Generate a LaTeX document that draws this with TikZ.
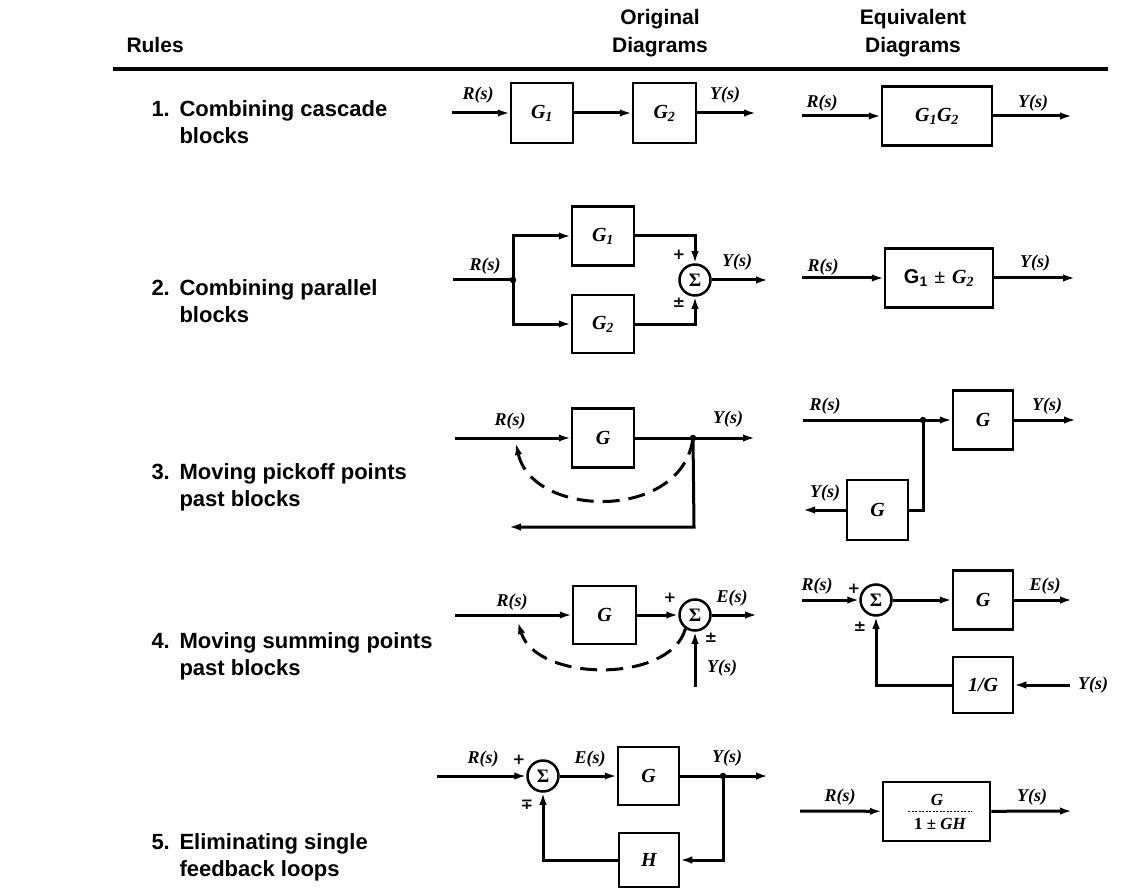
\documentclass[tikz,border=0pt]{standalone}
\usepackage{fontspec}
\setmainfont{Liberation Sans}
\newfontfamily\lab{Liberation Serif}
\newfontfamily\djv{DejaVu Sans}
\usetikzlibrary{arrows.meta}
\begin{document}
\begin{tikzpicture}[x=1pt,y=-1pt,
  line width=3pt,
  >={Latex[length=12pt,width=7.5pt]},
  blk/.style={draw,line width=2.5pt,inner sep=0pt,font=\lab\bfseries\itshape\fontsize{20}{22}\selectfont},
  sig/.style={font=\lab\bfseries\itshape\fontsize{18}{20}\selectfont,inner sep=0pt},
  sumn/.style={draw,circle,line width=2.5pt,minimum size=31pt,inner sep=0pt,font=\lab\bfseries\fontsize{19}{21}\selectfont},
  sgn/.style={font=\djv\bfseries\fontsize{15}{17}\selectfont,inner sep=0pt},
  jdot/.style={circle,fill,inner sep=0pt,minimum size=6.5pt},
  hdr/.style={font=\bfseries\fontsize{21}{27}\selectfont,inner sep=0pt},
  rl/.style={font=\bfseries\fontsize{22}{27}\selectfont,anchor=base west,inner sep=0pt},
  dsh/.style={dash pattern=on 17pt off 9pt},
]
\useasboundingbox (0,0) rectangle (1123,890);
\fill[white] (0,0) rectangle (1123,890);

% ---------- header ----------
\node[hdr,anchor=base west] (hrules) at (125,53) {Rules};
\node[hdr,anchor=base] (horig1) at (660,25) {Original};
\node[hdr,anchor=base] (horig2) at (660,53) {Diagrams};
\node[hdr,anchor=base] (hequ1) at (913,25) {Equivalent};
\node[hdr,anchor=base] (hequ2) at (913,53) {Diagrams};
\coordinate (ruleL) at (113,69);
\coordinate (ruleR) at (1108,69);
\draw[line width=3.2pt] (ruleL) -- (ruleR);

% ---------- rule labels ----------
\node[rl] (n1) at (150,117) {1.};
\node[rl] (t1a) at (178,117) {Combining cascade};
\node[rl] (t1b) at (178,144) {blocks};
\node[rl] (n2) at (150,295) {2.};
\node[rl] (t2a) at (178,295) {Combining parallel};
\node[rl] (t2b) at (178,322) {blocks};
\node[rl] (n3) at (150,479) {3.};
\node[rl] (t3a) at (178,479) {Moving pickoff points};
\node[rl] (t3b) at (178,506) {past blocks};
\node[rl] (n4) at (150,648) {4.};
\node[rl] (t4a) at (178,648) {Moving summing points};
\node[rl] (t4b) at (178,675) {past blocks};
\node[rl] (n5) at (150,849) {5.};
\node[rl] (t5a) at (178,849) {Eliminating single};
\node[rl] (t5b) at (178,876) {feedback loops};

% ---------- row 1 original ----------
\node[blk,minimum width=62pt,minimum height=60pt] (g1a) at (542,113) {G\textsubscript{1}};
\node[blk,minimum width=63pt,minimum height=60pt] (g2a) at (664.5,113) {G\textsubscript{2}};
\coordinate (r1in) at (452,113);
\coordinate (r1out) at (756,113);
\draw[->] (r1in) -- (g1a);
\draw[->] (g1a) -- (g2a);
\draw[->] (g2a) -- (r1out);
\node[sig] (r1R) at (478,95) {R(s)};
\node[sig] (r1Y) at (725,95) {Y(s)};

% ---------- row 1 equivalent ----------
\node[blk,minimum width=110pt,minimum height=59pt] (g12) at (937,116) {G\textsubscript{1}G\textsubscript{2}};
\coordinate (e1in) at (802,116);
\coordinate (e1out) at (1072,116);
\draw[->] (e1in) -- (g12);
\draw[->] (g12) -- (e1out);
\node[sig] (e1R) at (822,103) {R(s)};
\node[sig] (e1Y) at (1033,103) {Y(s)};

% ---------- row 2 original ----------
\coordinate (r2in) at (453,280);
\node[jdot] (r2split) at (513,280) {};
\node[blk,minimum width=62pt,minimum height=59pt] (g1b) at (603,236) {G\textsubscript{1}};
\node[blk,minimum width=62pt,minimum height=58pt] (g2b) at (603,324) {G\textsubscript{2}};
\node[sumn] (s2) at (695,280) {Σ};
\coordinate (r2out) at (768,280);
\draw (r2in) -- (r2split.center);
\draw[->] (r2split.center) |- (g1b.west);
\draw[->] (r2split.center) |- (g2b.west);
\draw[->] (g1b.east) -| (s2.north);
\draw[->] (g2b.east) -| (s2.south);
\draw[->] (s2) -- (r2out);
\node[sig] (r2R) at (485,266) {R(s)};
\node[sig] (r2Y) at (737,262) {Y(s)};
\node[sgn] (r2p) at (679,255) {+};
\node[sgn] (r2pm) at (679,303) {±};

% ---------- row 2 equivalent ----------
\node[blk,minimum width=108pt,minimum height=59pt] (g1pg2) at (939,278) {{\normalfont\bfseries G\textsubscript{1}}\,\,{\upshape ±}\,\,G\textsubscript{2}};
\coordinate (e2in) at (802,278);
\coordinate (e2out) at (1075,278);
\draw[->] (e2in) -- (g1pg2);
\draw[->] (g1pg2) -- (e2out);
\node[sig] (e2R) at (823,267) {R(s)};
\node[sig] (e2Y) at (1035,263) {Y(s)};

% ---------- row 3 original ----------
\coordinate (r3in) at (455,438);
\node[blk,minimum width=62pt,minimum height=59pt] (g3) at (603,438) {G};
\node[jdot] (p3) at (693,438) {};
\coordinate (r3out) at (755,438);
\coordinate (r3c) at (694,527);
\coordinate (r3end) at (509,527);
\coordinate (r3tip) at (516,443);
\draw[->] (r3in) -- (g3);
\draw (g3) -- (p3.center);
\draw[->] (p3.center) -- (r3c) -- (r3end);
\draw[->] (p3.center) -- (r3out);
\draw[dsh,->] (p3.center) .. controls (682,522) and (532,518) .. (r3tip);
\node[sig] (r3R) at (510,421) {R(s)};
\node[sig] (r3Y) at (728,419) {Y(s)};

% ---------- row 3 equivalent ----------
\coordinate (e3in) at (803,420);
\node[jdot] (p3e) at (923,420) {};
\node[blk,minimum width=60pt,minimum height=59pt] (g3e) at (983,420) {G};
\coordinate (e3out) at (1076,420);
\node[blk,minimum width=61pt,minimum height=60pt] (g3l) at (877.5,510) {G};
\coordinate (e3lout) at (803,510);
\draw (e3in) -- (p3e.center);
\draw[->] (p3e.center) -- (g3e);
\draw[->] (g3e) -- (e3out);
\draw (p3e.center) |- (g3l.east);
\draw[->] (g3l.west) -- (e3lout);
\node[sig] (e3R) at (825,406) {R(s)};
\node[sig] (e3Y) at (1047,406) {Y(s)};
\node[sig] (e3Y2) at (825,493) {Y(s)};

% ---------- row 4 original ----------
\coordinate (r4in) at (455,615);
\node[blk,minimum width=63pt,minimum height=58pt] (g4) at (604.5,615) {G};
\node[sumn] (s4) at (695,615) {Σ};
\coordinate (r4out) at (757,615);
\coordinate (r4y) at (695,687);
\coordinate (r4tip) at (518,622);
\draw[->] (r4in) -- (g4);
\draw[->] (g4) -- (s4);
\draw[->] (s4) -- (r4out);
\draw[->] (r4y) -- (s4.south);
\draw[dsh,->] (s4.235) .. controls (670,684) and (536,682) .. (r4tip);
\node[sig] (r4R) at (512,602) {R(s)};
\node[sig] (r4E) at (732,598) {E(s)};
\node[sgn] (r4p) at (670,598) {+};
\node[sgn] (r4pm) at (711,638) {±};
\node[sig] (r4Y) at (722,668) {Y(s)};

% ---------- row 4 equivalent ----------
\coordinate (e4in) at (802,600);
\node[sumn] (s4e) at (876,600) {Σ};
\node[blk,minimum width=60pt,minimum height=59pt] (g4e) at (983,600) {G};
\coordinate (e4out) at (1072,600);
\node[blk,minimum width=60pt,minimum height=56pt] (ig) at (983,685) {1/G};
\coordinate (e4y) at (1070,685);
\draw[->] (e4in) -- (s4e);
\draw[->] (s4e) -- (g4e);
\draw[->] (g4e) -- (e4out);
\draw[->] (e4y) -- (ig.east);
\draw[->] (ig.west) -| (s4e.south);
\node[sig] (e4R) at (817,586) {R(s)};
\node[sgn] (e4p) at (854,589) {+};
\node[sgn] (e4pm) at (860,627) {±};
\node[sig] (e4E) at (1045,586) {E(s)};
\node[sig] (e4Y) at (1093,685) {Y(s)};

% ---------- row 5 original ----------
\coordinate (r5in) at (437,776);
\node[sumn] (s5) at (543,776) {Σ};
\node[blk,minimum width=61pt,minimum height=58pt] (g5) at (648.5,776) {G};
\node[jdot] (p5) at (723,776) {};
\coordinate (r5out) at (768,776);
\node[blk,minimum width=60pt,minimum height=54pt] (h5) at (649,860) {H};
\draw[->] (r5in) -- (s5);
\draw[->] (s5) -- (g5);
\draw (g5) -- (p5.center);
\draw[->] (p5.center) -- (r5out);
\draw[->] (p5.center) |- (h5.east);
\draw[->] (h5.west) -| (s5.south);
\node[sig] (r5R) at (483,759) {R(s)};
\node[sgn] (r5p) at (519,760) {+};
\node[sig] (r5E) at (590,759) {E(s)};
\node[sig] (r5Y) at (727,758) {Y(s)};
\node[sgn] (r5mp) at (527,805) {∓};

% ---------- row 5 equivalent ----------
\node[blk,minimum width=107pt,minimum height=59pt] (gcl) at (936.5,811.5) {};
\node[sig,font=\lab\bfseries\itshape\fontsize{17}{19}\selectfont] (gnum) at (937,800) {G};
\node[sig,font=\lab\bfseries\itshape\fontsize{17}{19}\selectfont] (gden) at (940,824) {{\upshape 1} {\upshape ±} GH};
\coordinate (fracL) at (908,811);
\coordinate (fracR) at (972,811);
\draw[line width=0.7pt,dash pattern=on 2pt off 1.5pt] (fracL) -- (fracR);
\coordinate (e5in) at (800,811);
\coordinate (e5out) at (1072,811);
\draw[->] (e5in) -- (gcl);
\draw[->] (gcl) -- (e5out);
\node[sig] (e5R) at (840,797) {R(s)};
\node[sig] (e5Y) at (1032,797) {Y(s)};
\end{tikzpicture}
\end{document}
